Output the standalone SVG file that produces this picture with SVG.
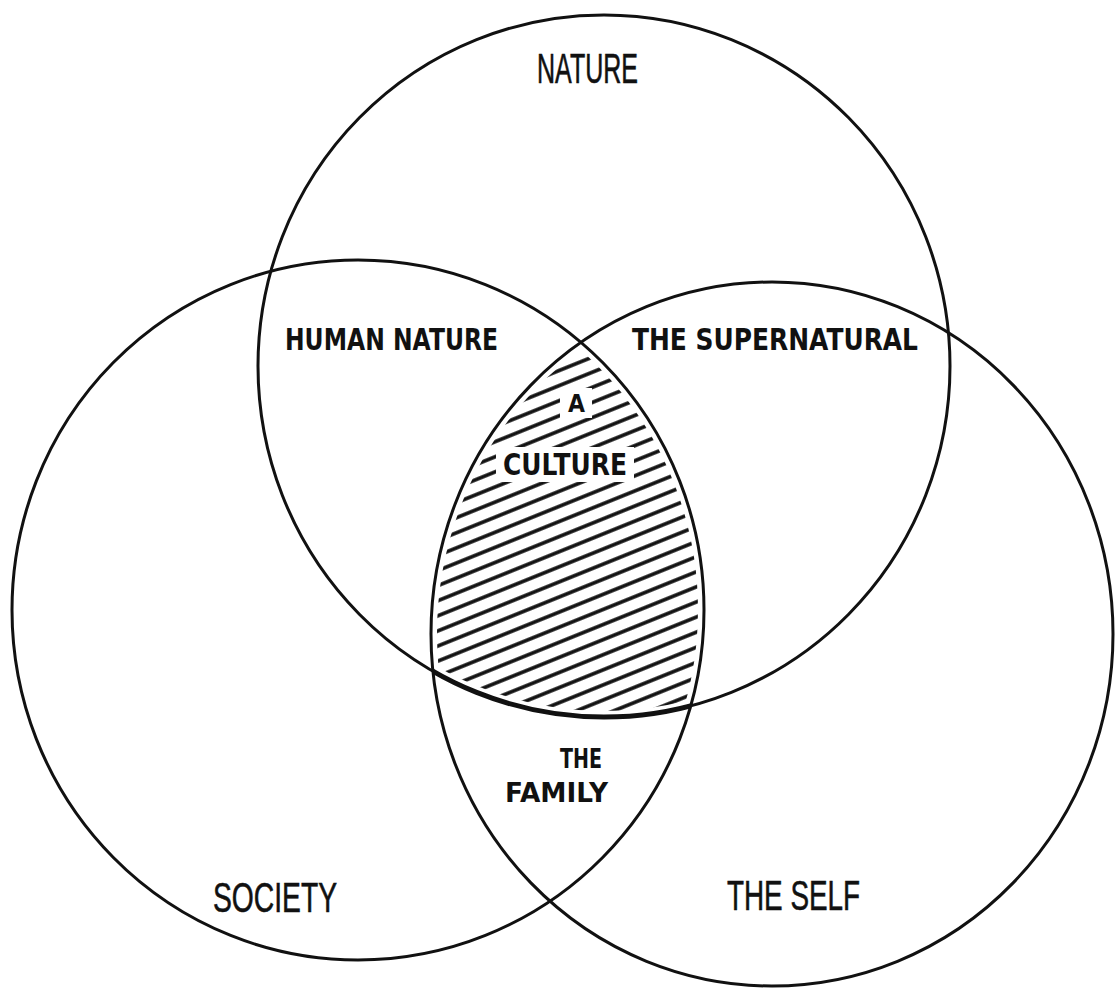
<svg xmlns="http://www.w3.org/2000/svg" width="1115" height="988" viewBox="0 0 1115 988">
<style>
.ring{fill:none;stroke:#111;stroke-width:3}
.big{font-family:"Liberation Sans",Arial,sans-serif;font-size:42px;fill:#111;stroke:#111;stroke-width:0.6}
.lab{font-family:"DejaVu Sans","Liberation Sans",sans-serif;font-weight:bold;font-size:30px;fill:#111}
.sm{font-size:27px}
</style>
<defs>
<pattern id="hatch" patternUnits="userSpaceOnUse" width="20" height="14" patternTransform="rotate(-22)">
<rect x="0" y="5.2" width="20" height="3.6" fill="#111"/>
</pattern>
<mask id="mT" maskUnits="userSpaceOnUse" x="0" y="0" width="1115" height="988">
<ellipse cx="604" cy="366" rx="346" ry="351" fill="white" stroke="black" stroke-width="12"/>
</mask>
<mask id="mL" maskUnits="userSpaceOnUse" x="0" y="0" width="1115" height="988">
<ellipse cx="358" cy="610" rx="346" ry="350" fill="white" stroke="black" stroke-width="12"/>
</mask>
<mask id="mR" maskUnits="userSpaceOnUse" x="0" y="0" width="1115" height="988">
<ellipse cx="772" cy="634" rx="341" ry="352" fill="white" stroke="black" stroke-width="12"/>
</mask>
<mask id="mText" maskUnits="userSpaceOnUse" x="0" y="0" width="1115" height="988">
<rect x="0" y="0" width="1115" height="988" fill="white"/>
<rect x="560" y="388" width="32" height="30" fill="black"/>
<rect x="496" y="447" width="138" height="35" fill="black"/>
</mask>
<clipPath id="cL"><ellipse cx="358" cy="610" rx="346" ry="350"/></clipPath>
<clipPath id="cR"><ellipse cx="772" cy="634" rx="341" ry="352"/></clipPath>
</defs>
<rect width="1115" height="988" fill="white"/>

<g id="culture-hatch" mask="url(#mT)">
<g mask="url(#mL)">
<g mask="url(#mR)">
<g mask="url(#mText)">
<rect x="400" y="330" width="340" height="400" fill="url(#hatch)"/>
</g>
</g>
</g>
</g>

<g id="connectors">
</g>

<g id="nature">
<ellipse class="ring" cx="604" cy="366" rx="346" ry="351"/>
<text class="big" x="537" y="83" textLength="101" lengthAdjust="spacingAndGlyphs">NATURE</text>
</g>
<g id="society">
<ellipse class="ring" cx="358" cy="610" rx="346" ry="350"/>
<text class="big" x="213" y="912" textLength="124" lengthAdjust="spacingAndGlyphs">SOCIETY</text>
</g>
<g id="self">
<ellipse class="ring" cx="772" cy="634" rx="341" ry="352"/>
<text class="big" x="727" y="910" textLength="133" lengthAdjust="spacingAndGlyphs">THE SELF</text>
</g>
<g id="lens-edge" clip-path="url(#cL)">
<g clip-path="url(#cR)">
<ellipse cx="604" cy="366" rx="346" ry="351" fill="none" stroke="#111" stroke-width="5"/>
</g>
</g>
<g id="human-nature">
<text class="lab" x="285" y="350" textLength="213" lengthAdjust="spacingAndGlyphs">HUMAN NATURE</text>
</g>
<g id="supernatural">
<text class="lab" x="632" y="350" textLength="286" lengthAdjust="spacingAndGlyphs">THE SUPERNATURAL</text>
</g>
<g id="culture">
<text class="lab" x="568" y="412" textLength="17" lengthAdjust="spacingAndGlyphs" style="font-size:24px">A</text>
<text class="lab" x="503" y="475" textLength="124" lengthAdjust="spacingAndGlyphs">CULTURE</text>
</g>
<g id="family">
<text class="lab sm" x="560" y="768" textLength="42" lengthAdjust="spacingAndGlyphs">THE</text>
<text class="lab sm" x="505" y="802" textLength="103" lengthAdjust="spacingAndGlyphs">FAMILY</text>
</g>
</svg>
